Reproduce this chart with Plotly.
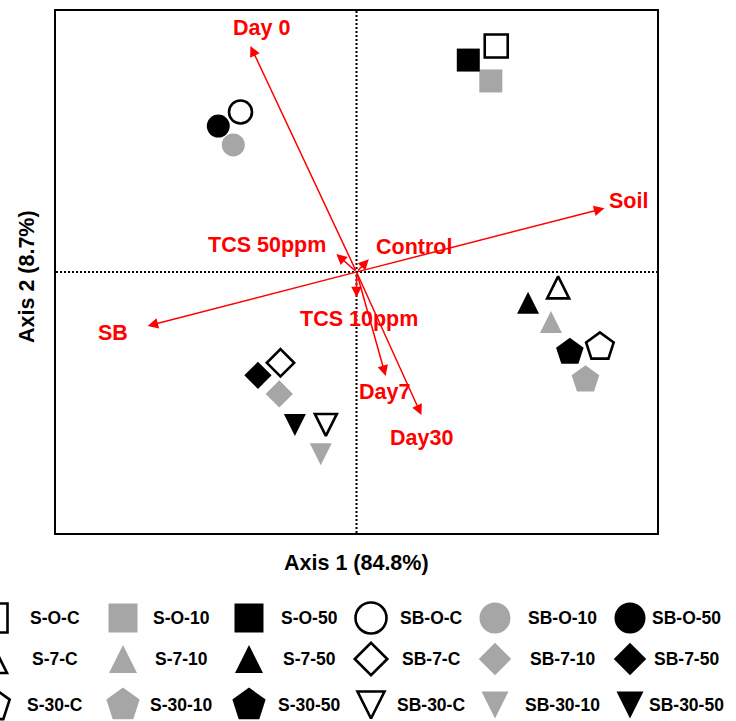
import plotly.graph_objects as go

# ---------------- data ----------------
sample_names = ["S-O-C", "S-O-10", "S-O-50", "SB-O-C", "SB-O-10", "SB-O-50",
                "S-7-C", "S-7-10", "S-7-50", "SB-7-C", "SB-7-10", "SB-7-50",
                "S-30-C", "S-30-10", "S-30-50", "SB-30-C", "SB-30-10", "SB-30-50"]
axis1 = [0.465, 0.447, 0.372, -0.386, -0.410, -0.460,
         0.671, 0.647, 0.571, -0.253, -0.257, -0.328,
         0.810, 0.762, 0.710, -0.102, -0.119, -0.205]
axis2 = [0.866, 0.732, 0.812, 0.613, 0.487, 0.559,
         -0.059, -0.192, -0.118, -0.348, -0.467, -0.396,
         -0.287, -0.413, -0.307, -0.586, -0.698, -0.586]

vector_names = ["Day 0", "TCS 50ppm", "Control", "Soil", "SB", "TCS 10ppm", "Day7", "Day30"]
vector_x = [-0.353, -0.067, 0.041, 0.825, -0.695, 0.000, 0.097, 0.216]
vector_y = [0.866, 0.069, 0.049, 0.244, -0.207, -0.097, -0.398, -0.548]

axis_titles = ["Axis 1 (84.8%)", "Axis 2 (8.7%)"]

# ---------------- styles ----------------
W, H = 736, 721
RED = "#ff0000"
GRAY = "#a6a6a6"
FONT = "Liberation Sans, Arial, sans-serif"

# symbol per group: (symbol, angle, plot size, legend size, centered-arrow?)
group_style = {
    "S-O": ("square", 0, 23, 29, False),
    "SB-O": ("circle", 0, 23, 31, False),
    "S-7": ("arrow-down", 180, 22, 28, True),
    "SB-7": ("diamond", 0, 21, 25, False),
    "S-30": ("pentagon", 0, 29, 35, False),
    "SB-30": ("arrow-down", 0, 22, 27, True),
}
fill_style = {"C": "white", "10": GRAY, "50": "black"}

# label offsets (px) relative to arrow tips
label_offsets = [(11, -18), (-69, -9), (45, -12), (24, -7), (-35, 7), (2, 22), (-1, 16), (0, 23)]

# legend grid (pixel layout)
leg_marker_x = [-7, 123, 249, 371, 495, 630]
leg_label_x = [55, 181, 309, 431, 562, 686]
leg_row_y = [618, 659, 705]

x_dom = [56 / W, 657 / W]
y_dom = [1 - 533 / H, 1 - 11 / H]

fig = go.Figure()


def style_for(name):
    parts = name.split("-")
    grp = parts[0] + "-" + parts[1]
    trt = parts[2]
    return group_style[grp], fill_style[trt]


# plot markers, legend markers
for i, name in enumerate(sample_names):
    (sym, ang, psize, lsize, centered), fill = style_for(name)
    is_open = fill == "white"
    mk = dict(symbol=sym, angle=ang, color=fill,
              line=dict(color="black" if is_open else fill, width=2.6 if is_open else 0))
    mk_plot = dict(mk, size=psize)
    mk_leg = dict(mk, size=lsize)
    if centered:
        mk_plot["standoff"] = psize / 2
        mk_leg["standoff"] = lsize / 2
    fig.add_trace(go.Scatter(x=[axis1[i]], y=[axis2[i]], mode="markers", marker=mk_plot,
                             name=name, showlegend=False, cliponaxis=False,
                             xaxis="x", yaxis="y", hoverinfo="name"))
    col = i % 6
    row = i // 6
    fig.add_trace(go.Scatter(x=[leg_marker_x[col]], y=[leg_row_y[row]], mode="markers",
                             marker=mk_leg, showlegend=False, cliponaxis=True,
                             xaxis="x2", yaxis="y2", hoverinfo="skip"))
    fig.add_annotation(x=leg_label_x[col], y=leg_row_y[row], xref="x2", yref="y2",
                       text="<b>%s</b>" % name, showarrow=False,
                       font=dict(family=FONT, size=17.5, color="black"),
                       xanchor="center", yanchor="middle")

# zero lines (dotted)
fig.add_shape(type="line", xref="x", yref="y domain", x0=0, x1=0, y0=0, y1=1,
              line=dict(color="black", width=2, dash="2px,2px"), layer="below")
fig.add_shape(type="line", xref="x domain", yref="y", x0=0, x1=1, y0=0, y1=0,
              line=dict(color="black", width=2, dash="2px,2px"), layer="below")

# biplot arrows and labels
for i, vname in enumerate(vector_names):
    fig.add_annotation(x=vector_x[i], y=vector_y[i], ax=0, ay=0, xref="x", yref="y",
                       axref="x", ayref="y", text="", showarrow=True,
                       arrowhead=2, arrowsize=1.4, arrowwidth=1.5, arrowcolor=RED,
                       standoff=0, startstandoff=0)
    dx, dy = label_offsets[i]
    fig.add_annotation(x=vector_x[i], y=vector_y[i], xref="x", yref="y",
                       text="<b>%s</b>" % vname, showarrow=False,
                       xshift=dx, yshift=-dy, xanchor="center", yanchor="middle",
                       font=dict(family=FONT, size=21.5, color=RED))

# axis titles
fig.add_annotation(x=(x_dom[0] + x_dom[1]) / 2, y=1 - 563 / H, xref="paper", yref="paper",
                   text="<b>%s</b>" % axis_titles[0], showarrow=False,
                   font=dict(family=FONT, size=21.5, color="black"),
                   xanchor="center", yanchor="middle")
fig.add_annotation(x=27 / W, y=1 - 277 / H, xref="paper", yref="paper",
                   text="<b>%s</b>" % axis_titles[1], showarrow=False, textangle=-90,
                   font=dict(family=FONT, size=21.5, color="black"),
                   xanchor="center", yanchor="middle")

fig.update_layout(
    width=W, height=H,
    margin=dict(l=0, r=0, t=0, b=0),
    paper_bgcolor="white", plot_bgcolor="white",
    showlegend=False,
    xaxis=dict(domain=x_dom, range=[-1, 1], showgrid=False, zeroline=False,
               showticklabels=False, ticks="", showline=True, linecolor="black",
               linewidth=2, mirror=True, fixedrange=True),
    yaxis=dict(domain=y_dom, range=[-1, 1], showgrid=False, zeroline=False,
               showticklabels=False, ticks="", showline=True, linecolor="black",
               linewidth=2, mirror=True, fixedrange=True),
    xaxis2=dict(domain=[0, 1], range=[0, W], visible=False, anchor="y2", fixedrange=True),
    yaxis2=dict(domain=[0, (H - 595) / H], range=[H, 595], visible=False, anchor="x2",
                fixedrange=True),
)

fig.write_html("out.html", config={"displayModeBar": False},
               post_script="document.body.style.margin='0px';")
